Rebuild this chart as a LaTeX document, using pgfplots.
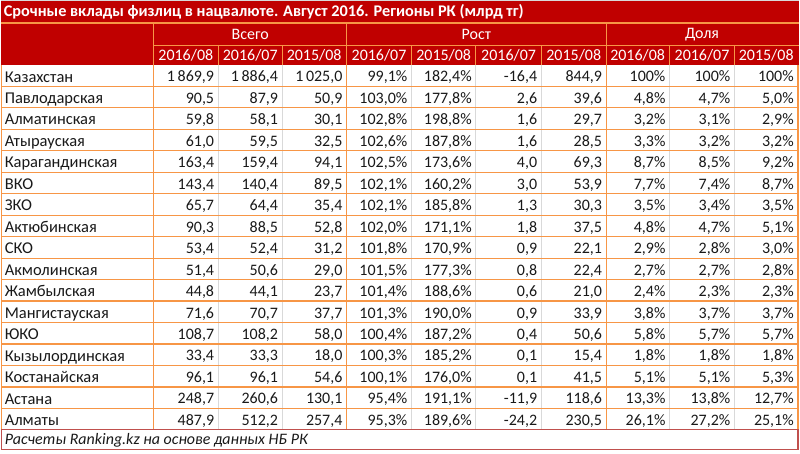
\documentclass[border=0pt]{standalone}
\usepackage{fontspec}
\setmainfont{Carlito}
\usepackage{pgfplots}
\usepackage{pgfplotstable}
\pgfplotsset{compat=1.18}
\definecolor{hdr}{RGB}{192,0,0}
\definecolor{org}{RGB}{247,150,70}
\definecolor{grayl}{RGB}{217,217,217}
\definecolor{ftr}{RGB}{192,80,77}
\definecolor{txt}{RGB}{25,25,25}
\newcommand\bodyfont{\fontsize{16bp}{19bp}\selectfont}
\newcommand\namefont{\fontsize{16.5bp}{19bp}\selectfont}

% Columns: vA vB vC = Всего (2016/08, 2016/07, 2015/08); gA gB = Рост % (2016/07, 2015/08);
% dA dB = Рост абс. (2016/07, 2015/08); sA sB sC = Доля % (2016/08, 2016/07, 2015/08)
\pgfplotstableread{
name vA vB vC gA gB dA dB sA sB sC
Казахстан 1869.9 1886.4 1025.0 99.1 182.4 -16.4 844.9 100 100 100
Павлодарская 90.5 87.9 50.9 103.0 177.8 2.6 39.6 4.8 4.7 5.0
Алматинская 59.8 58.1 30.1 102.8 198.8 1.6 29.7 3.2 3.1 2.9
Атырауская 61.0 59.5 32.5 102.6 187.8 1.6 28.5 3.3 3.2 3.2
Карагандинская 163.4 159.4 94.1 102.5 173.6 4.0 69.3 8.7 8.5 9.2
ВКО 143.4 140.4 89.5 102.1 160.2 3.0 53.9 7.7 7.4 8.7
ЗКО 65.7 64.4 35.4 102.1 185.8 1.3 30.3 3.5 3.4 3.5
Актюбинская 90.3 88.5 52.8 102.0 171.1 1.8 37.5 4.8 4.7 5.1
СКО 53.4 52.4 31.2 101.8 170.9 0.9 22.1 2.9 2.8 3.0
Акмолинская 51.4 50.6 29.0 101.5 177.3 0.8 22.4 2.7 2.7 2.8
Жамбылская 44.8 44.1 23.7 101.4 188.6 0.6 21.0 2.4 2.3 2.3
Мангистауская 71.6 70.7 37.7 101.3 190.0 0.9 33.9 3.8 3.7 3.7
ЮКО 108.7 108.2 58.0 100.4 187.2 0.4 50.6 5.8 5.7 5.7
Кызылординская 33.4 33.3 18.0 100.3 185.2 0.1 15.4 1.8 1.8 1.8
Костанайская 96.1 96.1 54.6 100.1 176.0 0.1 41.5 5.1 5.1 5.3
Астана 248.7 260.6 130.1 95.4 191.1 -11.9 118.6 13.3 13.8 12.7
Алматы 487.9 512.2 257.4 95.3 189.6 -24.2 230.5 26.1 27.2 25.1
}\datatable

% #1 column, #2 right edge x, #3 suffix, #4 extra options (number format), #5 skip options
\newcommand{\valcol}[5]{%
\addplot[draw=none, mark=none, point meta=explicit, #5,
  nodes near coords={\pgfmathprintnumber[#4]{\pgfplotspointmeta}#3},
  every node near coord/.append style={anchor=east,font=\bodyfont,text=txt,inner sep=0pt,text height=10.1bp,text depth=0pt}]
  table[x expr=#2, y expr={65+21.5*(\coordindex+0.5)+1.2}, meta=#1]{\datatable};}

\begin{document}
\begin{tikzpicture}
\begin{axis}[x=1bp,y=1bp,y dir=reverse,xmin=0,xmax=800,ymin=0,ymax=454,
  hide axis,clip=false,
  /pgf/number format/assume math mode=true,
  /pgf/number format/fixed,
  /pgf/number format/fixed zerofill,
  /pgf/number format/precision=1,
  /pgf/number format/use comma,
  /pgf/number format/1000 sep={\,}]

% backgrounds
\fill[white] (axis cs:0,0) rectangle (axis cs:800,454);
\fill[hdr] (axis cs:0,0) rectangle (axis cs:800,65);
\draw[grayl, line width=0.8bp] (axis cs:0,0.4) -- (axis cs:800,0.4);

% title
\node[anchor=west, text=white, inner sep=0pt, font=\fontsize{16.3bp}{19bp}\selectfont\bfseries] at (axis cs:3,11.5)
  {Срочные вклады физлиц в нацвалюте. Август 2016. Регионы РК (млрд тг)};

% header lines
\draw[org, line width=1.2bp] (axis cs:0,23) -- (axis cs:800,23);
\draw[org, line width=1.2bp] (axis cs:153,45.5) -- (axis cs:800,45.5);
\pgfplotsinvokeforeach{153,346.5,606.5}{\draw[org, line width=1.2bp] (axis cs:#1,23) -- (axis cs:#1,65);}
\pgfplotsinvokeforeach{218,282,411.5,476,541.5,670,735}{\draw[org, line width=1.2bp] (axis cs:#1,45.5) -- (axis cs:#1,65);}

% header text
\node[text=white, font=\bodyfont] at (axis cs:250,34.5) {Всего};
\node[text=white, font=\bodyfont] at (axis cs:476.5,34.5) {Рост};
\node[text=white, font=\bodyfont] at (axis cs:702.5,34.5) {Доля};
\node[text=white, font=\bodyfont] at (axis cs:185.5,55.5) {2016/08};
\node[text=white, font=\bodyfont] at (axis cs:250,55.5) {2016/07};
\node[text=white, font=\bodyfont] at (axis cs:314,55.5) {2015/08};
\node[text=white, font=\bodyfont] at (axis cs:379,55.5) {2016/07};
\node[text=white, font=\bodyfont] at (axis cs:443.75,55.5) {2015/08};
\node[text=white, font=\bodyfont] at (axis cs:508.75,55.5) {2016/07};
\node[text=white, font=\bodyfont] at (axis cs:574,55.5) {2015/08};
\node[text=white, font=\bodyfont] at (axis cs:638,55.5) {2016/08};
\node[text=white, font=\bodyfont] at (axis cs:702.5,55.5) {2016/07};
\node[text=white, font=\bodyfont] at (axis cs:766.75,55.5) {2015/08};

% body grid
\pgfplotsinvokeforeach{218,282,411.5,476,541.5,670,735}{\draw[grayl, line width=1.2bp] (axis cs:#1,65) -- (axis cs:#1,430.5);}
\pgfplotsinvokeforeach{86.5,108,129.5,151,172.5,194,215.5,237,258.5,280,301.5,323,344.5,366,387.5,409}{\draw[org, line width=1.2bp] (axis cs:0.5,#1) -- (axis cs:798.5,#1);}
\pgfplotsinvokeforeach{0.6,153,346.5,606.5,798.5}{\draw[org, line width=1.2bp] (axis cs:#1,65) -- (axis cs:#1,430.5);}

% footer
\draw[ftr, line width=1.2bp] (axis cs:0.6,430.5) -- (axis cs:798.5,430.5) -- (axis cs:798.5,450) -- (axis cs:0.6,450) -- cycle;
\node[anchor=west, inner sep=0pt, font=\fontsize{16bp}{19bp}\selectfont\itshape, text=txt] at (axis cs:4,441)
  {Расчеты Ranking.kz на основе данных НБ РК};

% row names
\addplot[draw=none, mark=none, point meta=explicit symbolic, nodes near coords={\pgfplotspointmeta},
  every node near coord/.append style={anchor=west,font=\namefont,text=txt,inner sep=0pt,text height=10.4bp,text depth=0pt}]
  table[x expr=4, y expr={65+21.5*(\coordindex+0.5)+1.2}, meta=name]{\datatable};

% values
\valcol{vA}{214}{}{}{}
\valcol{vB}{278}{}{}{}
\valcol{vC}{342.5}{}{}{}
\valcol{gA}{407.5}{\%}{}{}
\valcol{gB}{472}{\%}{}{}
\valcol{dA}{537.5}{}{}{}
\valcol{dB}{602.5}{}{}{}
\valcol{sA}{666}{\%}{}{skip coords between index={0}{1}}
\valcol{sB}{731}{\%}{}{skip coords between index={0}{1}}
\valcol{sC}{794.5}{\%}{}{skip coords between index={0}{1}}
\valcol{sA}{666}{\%}{precision=0}{skip coords between index={1}{17}}
\valcol{sB}{731}{\%}{precision=0}{skip coords between index={1}{17}}
\valcol{sC}{794.5}{\%}{precision=0}{skip coords between index={1}{17}}
\end{axis}
\end{tikzpicture}
\end{document}
